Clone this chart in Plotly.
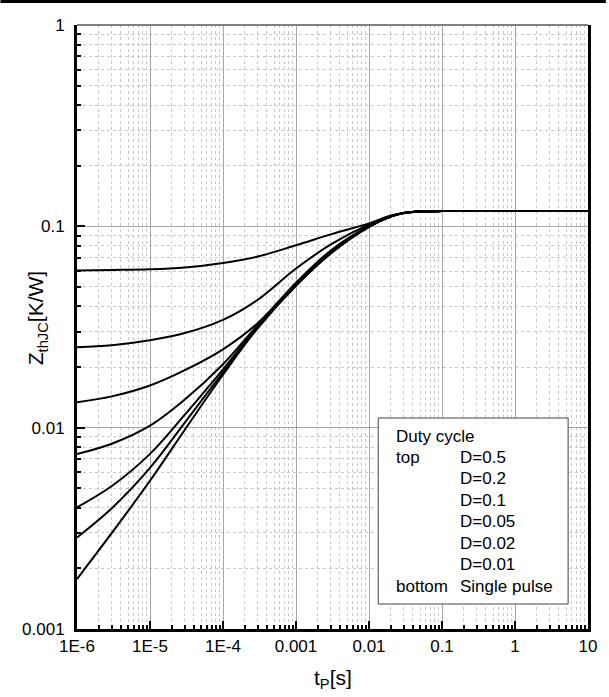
import plotly.graph_objects as go

# ---- data ----
t_p = [1e-6, 3e-6, 1e-5, 3e-5, 1e-4, 3e-4, 1e-3, 3e-3, 1e-2, 2e-2, 3e-2, 5e-2, 1e-1, 3e-1, 1, 3, 10]

z_d050 = [0.0604, 0.0607, 0.0612, 0.0625, 0.0658, 0.0708, 0.0805, 0.0912, 0.1035, 0.1132, 0.1166, 0.1185, 0.119, 0.119, 0.119, 0.119, 0.119]
z_d020 = [0.0251, 0.0257, 0.0272, 0.0295, 0.0343, 0.0432, 0.0617, 0.0813, 0.1023, 0.1127, 0.1165, 0.1184, 0.119, 0.119, 0.119, 0.119, 0.119]
z_d010 = [0.01336, 0.0143, 0.0162, 0.0193, 0.0245, 0.0331, 0.0525, 0.0759, 0.1005, 0.1122, 0.1164, 0.1184, 0.119, 0.119, 0.119, 0.119, 0.119]
z_d005 = [0.0074, 0.00832, 0.01023, 0.0138, 0.02065, 0.0324, 0.0516, 0.0745, 0.1000, 0.1120, 0.1164, 0.1184, 0.119, 0.119, 0.119, 0.119, 0.119]
z_d002 = [0.00402, 0.00513, 0.00741, 0.01161, 0.0195, 0.03177, 0.0512, 0.0740, 0.0998, 0.1120, 0.1164, 0.1184, 0.119, 0.119, 0.119, 0.119, 0.119]
z_d001 = [0.00285, 0.00398, 0.00631, 0.0106, 0.01884, 0.0315, 0.0509, 0.0736, 0.0995, 0.1119, 0.1164, 0.1184, 0.119, 0.119, 0.119, 0.119, 0.119]
z_single = [0.00177, 0.0030, 0.00545, 0.00977, 0.01832, 0.03126, 0.0507, 0.0733, 0.0993, 0.1118, 0.1163, 0.1184, 0.119, 0.119, 0.119, 0.119, 0.119]

series = [z_d050, z_d020, z_d010, z_d005, z_d002, z_d001, z_single]

x_tickvals = [1e-6, 1e-5, 1e-4, 1e-3, 1e-2, 1e-1, 1, 10]
x_ticktext = ["1E-6", "1E-5", "1E-4", "0.001", "0.01", "0.1", "1", "10"]
y_tickvals = [0.001, 0.01, 0.1, 1]
y_ticktext = ["0.001", "0.01", "0.1", "1"]

legend_rows = [
    ("Duty cycle", ""),
    ("top", "D=0.5"),
    ("", "D=0.2"),
    ("", "D=0.1"),
    ("", "D=0.05"),
    ("", "D=0.02"),
    ("", "D=0.01"),
    ("bottom", "Single pulse"),
]

# ---- layout geometry (pixels) ----
W, H = 609, 697
ML, MR, MT, MB = 77, 18, 25, 68
PW, PH = W - ML - MR, H - MT - MB


def px(xp):
    return (xp - ML) / PW


def py(yp):
    return (H - MB - yp) / PH


FONT = "Liberation Sans, Arial, sans-serif"

fig = go.Figure()
for s in series:
    fig.add_trace(go.Scatter(x=t_p, y=s, mode="lines",
                             line=dict(color="black", width=2, shape="spline", smoothing=1.0),
                             showlegend=False, hoverinfo="skip"))

x_minor = [k * 10.0 ** n for n in range(-6, 1) for k in range(2, 10)]
y_minor = [k * 10.0 ** n for n in range(-3, 0) for k in range(2, 10)]

common = dict(
    showline=True, linewidth=3, linecolor="black",
    ticks="inside", ticklen=8, tickwidth=2, tickcolor="black",
    showgrid=True, gridcolor="#a6a6a6", gridwidth=1,
    tickfont=dict(family=FONT, size=17, color="black"),
    zeroline=False,
)

fig.update_xaxes(type="log", range=[-6, 1], tickmode="array",
                 tickvals=x_tickvals, ticktext=x_ticktext,
                 minor=dict(tickmode="array", tickvals=x_minor, ticks="inside", ticklen=4,
                            tickwidth=2, tickcolor="black", showgrid=True,
                            gridcolor="#c8c8c8", griddash="dot", gridwidth=1),
                 **common)
fig.update_yaxes(type="log", range=[-3, 0], tickmode="array",
                 tickvals=y_tickvals, ticktext=y_ticktext, mirror=True,
                 ticklabelstandoff=6,
                 minor=dict(tickmode="array", tickvals=y_minor, ticks="inside", ticklen=4,
                            tickwidth=2, tickcolor="black", showgrid=True,
                            gridcolor="#c8c8c8", griddash="dot", gridwidth=1),
                 **common)

shapes = [
    # top frame line (gray)
    dict(type="line", xref="paper", yref="paper", x0=0, x1=1, y0=1, y1=1,
         line=dict(color="#808080", width=2)),
    # page top border
    dict(type="line", xref="paper", yref="paper", x0=px(0), x1=px(W), y0=py(1.5), y1=py(1.5),
         line=dict(color="black", width=3)),
    # legend box
    dict(type="rect", xref="paper", yref="paper", x0=px(380), x1=px(571), y0=py(604), y1=py(418),
         fillcolor="white", line=dict(color="#444444", width=1), layer="above"),
]

annotations = []
for i, (left, right) in enumerate(legend_rows):
    yc = 436 + 21.43 * i
    if left:
        annotations.append(dict(text=left, xref="paper", yref="paper", x=px(396), y=py(yc),
                                xanchor="left", yanchor="middle", showarrow=False,
                                font=dict(family=FONT, size=17, color="black")))
    if right:
        annotations.append(dict(text=right, xref="paper", yref="paper", x=px(460), y=py(yc),
                                xanchor="left", yanchor="middle", showarrow=False,
                                font=dict(family=FONT, size=17, color="black")))

annotations.append(dict(text="Z<sub>thJC</sub>[K/W]", xref="paper", yref="paper",
                        x=px(37), y=py(318), textangle=-90, xanchor="center", yanchor="middle",
                        showarrow=False, font=dict(family=FONT, size=21, color="black")))
annotations.append(dict(text="t<sub>P</sub>[s]", xref="paper", yref="paper",
                        x=px(334), y=py(679), xanchor="center", yanchor="middle",
                        showarrow=False, font=dict(family=FONT, size=21, color="black")))

fig.update_layout(width=W, height=H, margin=dict(l=ML, r=MR, t=MT, b=MB),
                  plot_bgcolor="white", paper_bgcolor="white",
                  shapes=shapes, annotations=annotations, showlegend=False)

fig.write_html("out.html")
